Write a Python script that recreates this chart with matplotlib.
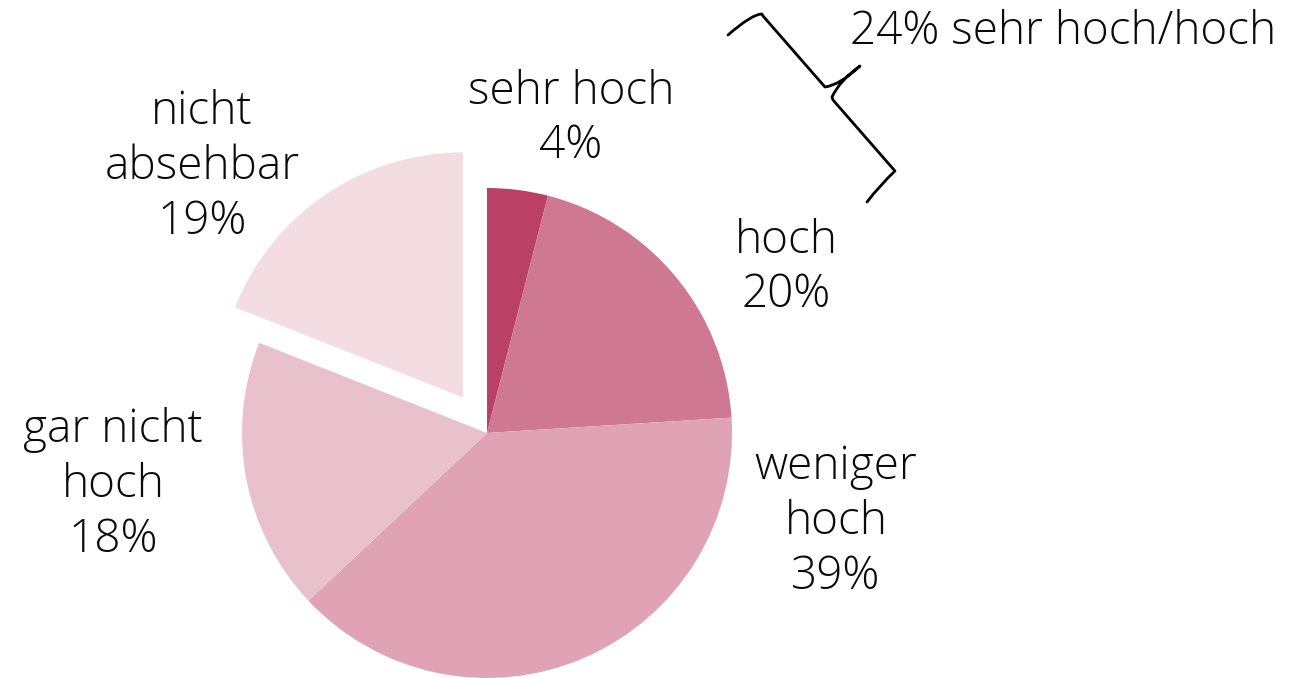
import matplotlib.pyplot as plt
from matplotlib.path import Path
from matplotlib.patches import PathPatch

labels = ['sehr hoch', 'hoch', 'weniger\nhoch', 'gar nicht\nhoch', 'nicht\nabsehbar']
shares = [4, 20, 39, 18, 19]
colors = ['#BB4066', '#CF7891', '#DFA3B5', '#E9C1CD', '#F3DDE3']
explode = [0, 0, 0, 0, 43]
summary = '24% sehr hoch/hoch'

W, H = 1315, 678
fig = plt.figure(figsize=(W / 100, H / 100), dpi=100)
ax = fig.add_axes([0, 0, 1, 1])

# pie in pixel units: explode is an absolute offset here
ax.pie(shares, colors=colors, explode=explode, startangle=90, counterclock=False,
       center=(487, H - 433), radius=245, frame=True,
       wedgeprops=dict(linewidth=0))
ax.set_xlim(0, W)
ax.set_ylim(0, H)
ax.axis('off')

font = dict(family=['Open Sans', 'DejaVu Sans'], fontweight='light', fontsize=33,
            color='#0a0a0a', linespacing=1.25)

# label positions in pixels (x centre, y centre from top)
label_pos = [(571, 119), (786, 268), (836, 522), (113, 485), (202, 167)]
for lab, val, (x, y) in zip(labels, shares, label_pos):
    ax.text(x, H - y, f'{lab}\n{val}%', ha='center', va='center', **font)

ax.text(850, H - 32, summary, ha='left', va='center', **font)

# curly brace
pts = [(728, 35), (752, 14), (762, 14), (763, 16), (825, 87), (840, 85), (860, 66),
       (840, 80), (832, 97), (833, 100), (895, 171), (880, 185), (867, 202)]
codes = [Path.MOVETO, Path.CURVE3, Path.CURVE3, Path.LINETO, Path.LINETO,
         Path.CURVE3, Path.CURVE3, Path.CURVE3, Path.CURVE3, Path.LINETO,
         Path.LINETO, Path.CURVE3, Path.CURVE3]
brace = Path([(x, H - y) for x, y in pts], codes)
ax.add_patch(PathPatch(brace, facecolor='none', edgecolor='black', linewidth=2,
                       capstyle='round', joinstyle='round'))

fig.savefig('out.png', dpi=100)
